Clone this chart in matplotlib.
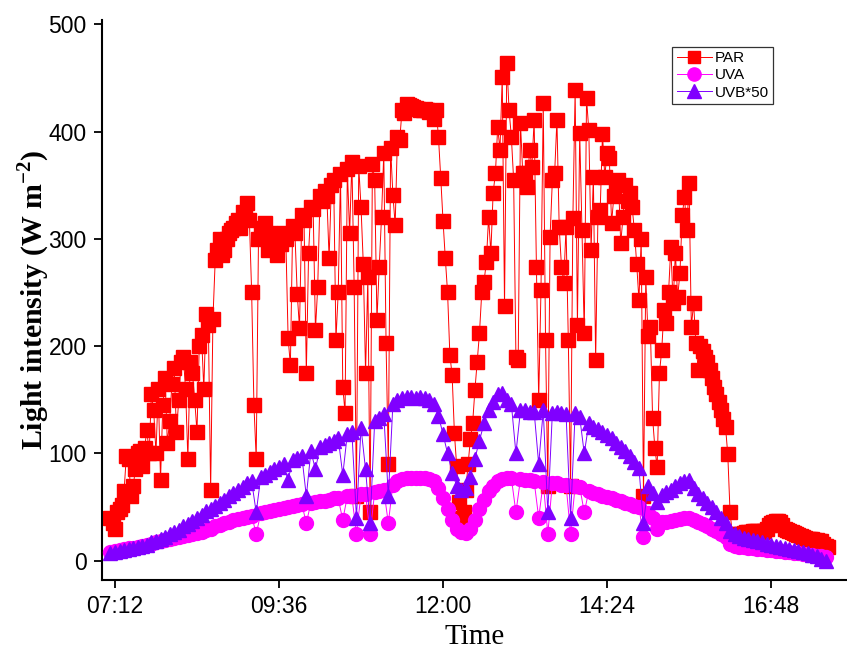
import numpy as np
import pandas as pd
import matplotlib
matplotlib.use("Agg")
import matplotlib.pyplot as plt

day = "2020-06-01 "

# PAR logged every 2 min from 07:08, UV sensors every 4 min
par_start, par_step, par_n = "07:08", "2min", 316
uv_start, uv_step, uv_n = "07:08", "4min", 158

par = [40, 35, 30, 45, 48, 52, 65, 98, 95, 60, 70, 85, 100, 102, 88, 105, 122, 100, 155, 140,
       100, 160, 75, 145, 170, 110, 130, 165, 180, 120, 150, 185, 190, 160, 95, 185, 175, 150, 120, 200,
       210, 160, 230, 220, 66, 225, 280, 290, 300, 285, 290, 300, 305, 308, 310, 315, 318, 310, 325, 320,
       333, 318, 250, 145, 95, 300, 305, 310, 315, 290, 305, 300, 298, 285, 300, 295, 305, 300, 208, 182,
       312, 305, 249, 217, 322, 318, 175, 287, 330, 328, 215, 255, 340, 335, 345, 340, 282, 350, 355, 206,
       250, 360, 162, 138, 365, 305, 372, 255, 60, 368, 330, 277, 175, 264, 45, 370, 355, 224, 274, 320,
       380, 203, 90, 385, 341, 313, 395, 392, 420, 417, 426, 425, 424, 423, 422, 421, 420, 420, 421, 420,
       418, 419, 412, 420, 395, 357, 317, 282, 250, 192, 173, 119, 88, 55, 40, 45, 66, 90, 113, 128,
       159, 185, 212, 250, 260, 278, 320, 287, 343, 361, 404, 383, 451, 237, 464, 420, 395, 355, 190, 187,
       408, 361, 361, 348, 383, 367, 411, 274, 150, 252, 427, 206, 70, 302, 355, 361, 411, 311, 274, 259,
       311, 206, 70, 319, 439, 220, 399, 308, 212, 431, 401, 290, 358, 187, 320, 327, 398, 358, 380, 375,
       315, 340, 352, 355, 296, 320, 350, 335, 343, 330, 308, 277, 243, 300, 60, 264, 209, 218, 133, 105,
       87, 175, 196, 234, 222, 250, 292, 240, 287, 246, 268, 322, 339, 308, 352, 218, 240, 203, 178, 200,
       195, 190, 185, 178, 170, 162, 155, 148, 140, 132, 125, 99, 45, 25, 22, 23, 25, 25, 26, 27,
       27, 27, 28, 28, 28, 27, 27, 28, 30, 33, 35, 36, 37, 37, 36, 33, 30, 29, 28, 27,
       26, 25, 24, 23, 22, 21, 20, 20, 20, 19, 19, 18, 18, 16, 14, 13]

uva = [8, 9, 10, 11, 12, 12, 13, 14, 15, 16, 17, 18, 19, 20, 21, 22, 23, 24, 25, 26,
       27, 29, 30, 32, 33, 35, 36, 38, 39, 40, 41, 42, 25, 44, 45, 46, 47, 48, 49, 50,
       51, 52, 53, 35, 54, 55, 56, 56, 57, 58, 58, 38, 60, 60, 25, 62, 62, 25, 64, 65,
       66, 35, 71, 74, 76, 77, 77, 77, 77, 77, 76, 74, 68, 58, 48, 38, 30, 27, 26, 30,
       38, 48, 57, 65, 70, 74, 76, 77, 77, 45, 76, 75, 75, 74, 40, 73, 25, 72, 72, 71,
       71, 25, 70, 69, 45, 65, 63, 62, 60, 59, 58, 57, 56, 54, 53, 51, 50, 22, 44, 40,
       30, 36, 36, 37, 38, 39, 40, 40, 38, 36, 34, 32, 30, 28, 25, 22, 16, 14, 13, 13,
       12, 12, 11, 11, 10, 10, 9, 9, 8, 8, 7, 7, 6, 5, 5, 4, 4, 3]

uvb50 = [7, 8, 9, 10, 11, 12, 13, 14, 15, 17, 18, 20, 22, 25, 27, 29, 32, 34, 37, 40,
         43, 46, 48, 51, 54, 57, 60, 63, 66, 69, 72, 74, 45, 78, 80, 83, 85, 87, 90, 75,
         94, 96, 98, 60, 102, 85, 106, 108, 110, 112, 114, 80, 118, 120, 40, 124, 85, 35, 130, 133,
         137, 60, 146, 150, 152, 153, 153, 152, 153, 152, 150, 146, 135, 118, 100, 82, 70, 66, 68, 78,
         95, 112, 128, 140, 148, 155, 156, 150, 146, 100, 140, 140, 139, 139, 90, 140, 45, 138, 139, 138,
         137, 40, 138, 134, 100, 128, 125, 123, 120, 117, 114, 110, 106, 102, 98, 92, 86, 35, 70, 63,
         55, 61, 64, 66, 70, 72, 74, 75, 68, 62, 58, 54, 50, 45, 40, 35, 28, 25, 23, 21,
         20, 19, 18, 17, 16, 15, 14, 13, 12, 11, 10, 9, 8, 7, 5, 4, 2, 0]

tick_labels = ["07:12", "09:36", "12:00", "14:24", "16:48"]

t_par = pd.date_range(day + par_start, periods=par_n, freq=par_step)
t_uv = pd.date_range(day + uv_start, periods=uv_n, freq=uv_step)

plt.rcParams['mathtext.fontset'] = 'custom'
plt.rcParams['mathtext.bf'] = 'Liberation Serif:bold'
plt.rcParams['mathtext.rm'] = 'Liberation Serif'

fig = plt.figure(figsize=(8.47, 6.55), dpi=100)
ax = fig.add_axes([0.1204, 0.1145, 0.8796, 0.855])

ax.plot(t_par, par, color='#ff0000', lw=0.7, marker='s', ms=9.5, mec='#ff0000', label='PAR', zorder=2)
ax.plot(t_uv, uva, color='#ff00ff', lw=0.7, marker='o', ms=10, mec='#ff00ff', label='UVA', zorder=3)
ax.plot(t_uv, uvb50, color='#8000ff', lw=0.7, marker='^', ms=10.5, mec='#8000ff', label='UVB*50', zorder=4)

ax.set_ylim(-18, 504)
ax.set_xlim(pd.Timestamp(day + "07:00:36"), pd.Timestamp(day + "17:54:40"))
ax.set_yticks([0, 100, 200, 300, 400, 500])
ax.set_xticks(pd.to_datetime([day + t for t in tick_labels]))
ax.set_xticklabels(tick_labels)

for s in ['top', 'right']:
    ax.spines[s].set_visible(False)
for s in ['left', 'bottom']:
    ax.spines[s].set_linewidth(1.5)

ax.tick_params(direction='out', length=6, width=1.3, labelsize=16.5, pad=5)
for lab in ax.get_xticklabels() + ax.get_yticklabels():
    lab.set_family('Liberation Sans')

ax.set_ylabel(r"Light intensity (W m$^{\mathbf{-2}}$)", family='Liberation Serif',
              fontweight='bold', fontsize=21.5)
ax.yaxis.set_label_coords(-0.067, 0.5)
ax.set_xlabel("Time", family='Liberation Serif', fontsize=21, labelpad=4)

leg = ax.legend(loc='upper left', bbox_to_anchor=(0.765, 0.952), borderaxespad=0,
                prop={'family': 'Liberation Sans', 'size': 11},
                frameon=True, fancybox=False, edgecolor='black', handlelength=2.3,
                borderpad=0.3, labelspacing=0.2, handletextpad=0.2, markerscale=0.95)
leg.get_frame().set_linewidth(0.9)

fig.savefig("out.png", dpi=100)
